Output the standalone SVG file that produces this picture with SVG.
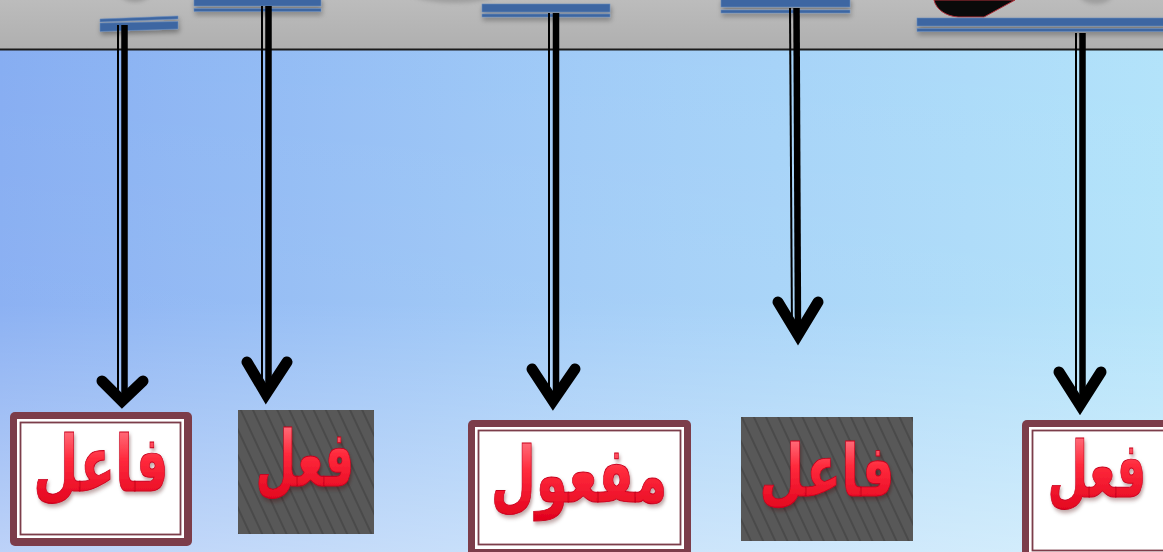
<svg xmlns="http://www.w3.org/2000/svg" width="1163" height="552" viewBox="0 0 1163 552">
  <defs>
    <linearGradient id="skyH" x1="0" y1="0" x2="1" y2="0">
      <stop offset="0" stop-color="#86adf2"/>
      <stop offset="0.5" stop-color="#a0cbf7"/>
      <stop offset="1" stop-color="#b2e3fa"/>
    </linearGradient>
    <linearGradient id="skyV" x1="0" y1="0" x2="0" y2="1">
      <stop offset="0" stop-color="#ffffff" stop-opacity="0"/>
      <stop offset="0.55" stop-color="#ffffff" stop-opacity="0.05"/>
      <stop offset="1" stop-color="#ffffff" stop-opacity="0.45"/>
    </linearGradient>
    <linearGradient id="band" x1="0" y1="0" x2="0" y2="1">
      <stop offset="0" stop-color="#bcbcbc"/>
      <stop offset="1" stop-color="#afafaf"/>
    </linearGradient>
    <linearGradient id="glossRed" x1="0" y1="0" x2="0" y2="1">
      <stop offset="0" stop-color="#ff8a94"/>
      <stop offset="0.45" stop-color="#ff2a3c"/>
      <stop offset="1" stop-color="#e0001c"/>
    </linearGradient>
    <pattern id="stripes" width="11" height="11" patternUnits="userSpaceOnUse" patternTransform="rotate(-25)">
      <rect width="11" height="11" fill="#585858"/>
      <rect x="0" y="0" width="2" height="11" fill="#4a4a4a"/>
    </pattern>
    <filter id="softShadow" x="-10%" y="-50%" width="120%" height="250%">
      <feDropShadow dx="1" dy="3" stdDeviation="2.5" flood-color="#000" flood-opacity="0.35"/>
    </filter>
    <filter id="textShadow" x="-10%" y="-10%" width="130%" height="130%">
      <feDropShadow dx="1.5" dy="2" stdDeviation="1.5" flood-color="#400008" flood-opacity="0.35"/>
    </filter>
    <filter id="blurArc" x="-20%" y="-20%" width="140%" height="140%">
      <feGaussianBlur stdDeviation="2"/>
    </filter>
  </defs>
  <style>
    .bar { fill: #3c66a2; stroke: #6b8dbd; stroke-width: 0.6; }
    .frameOuter { fill: #7c3d4a; }
    .frameInner { fill: #ffffff; }
    .frameLine { fill: none; stroke: #7c3d4a; stroke-width: 1.8; }
    .tile { fill: url(#stripes); }
    .word { font-family: "DejaVu Sans", sans-serif; font-weight: bold; font-size: 52px; fill: url(#glossRed); stroke: #c8001c; stroke-width: 0.6; text-anchor: middle; filter: url(#textShadow); }
    .stem { stroke: #000; fill: none; }
    .thin { stroke-width: 2; }
    .thick { stroke-width: 6.5; }
    .head { stroke: #000; stroke-width: 11; fill: none; stroke-linecap: round; stroke-linejoin: miter; stroke-miterlimit: 10; }
  </style>

  <!-- sky background -->
  <rect width="1163" height="552" fill="url(#skyH)"/>
  <rect width="1163" height="552" fill="url(#skyV)"/>

  <!-- grey header band -->
  <g id="header">
    <rect x="0" y="0" width="1163" height="50" fill="url(#band)"/>
    <!-- bottoms of round shapes cut by the top edge -->
    <ellipse cx="135" cy="-8" rx="16" ry="10" fill="#8a8a8a" filter="url(#blurArc)" opacity="0.7"/>
    <ellipse cx="455" cy="-10" rx="48" ry="13" fill="#8a8a8a" filter="url(#blurArc)" opacity="0.6"/>
    <ellipse cx="1096" cy="-8" rx="18" ry="12" fill="#8a8a8a" filter="url(#blurArc)" opacity="0.6"/>
    <path d="M934,0 C936,9 945,16 958,17 L984,17 L1015,0 Z" fill="#0a0a0a" stroke="#b0303a" stroke-width="1"/>
    <!-- blue label bars -->
    <g filter="url(#softShadow)">
      <polygon class="bar" points="100,19 178,16 178,19 100,22"/>
      <polygon class="bar" points="100,23 178,21.5 178,29 100,31.5"/>
      <rect class="bar" x="194" y="-2" width="127" height="8"/>
      <rect class="bar" x="194" y="8.5" width="127" height="3"/>
      <rect class="bar" x="482" y="4" width="128" height="8"/>
      <rect class="bar" x="482" y="14" width="128" height="3"/>
      <rect class="bar" x="721" y="-2" width="129" height="9"/>
      <rect class="bar" x="721" y="10" width="129" height="3"/>
      <rect class="bar" x="917" y="18" width="250" height="8"/>
      <rect class="bar" x="917" y="28.5" width="250" height="3"/>
    </g>
    <rect x="0" y="48.5" width="1163" height="2" fill="#1a1a1a"/>
  </g>

  <!-- connectors: double stems ending in open chevron heads -->
  <g id="connectors">
    <line class="stem thin" x1="118" y1="25" x2="118" y2="402"/>
    <line class="stem thick" x1="124.5" y1="25" x2="124.5" y2="402"/>
    <polyline class="head" points="102,381 122,401 143,381"/>

    <line class="stem thin" x1="262" y1="6" x2="262" y2="394"/>
    <line class="stem thick" x1="268.5" y1="6" x2="268.5" y2="394"/>
    <polyline class="head" points="247,362 266,394 287,362"/>

    <line class="stem thin" x1="549" y1="13" x2="549" y2="400"/>
    <line class="stem thick" x1="556" y1="13" x2="556" y2="400"/>
    <polyline class="head" points="532,369 553,401 575,369"/>

    <line class="stem thin" x1="790" y1="8" x2="792" y2="333"/>
    <line class="stem thick" x1="796.5" y1="8" x2="798" y2="333"/>
    <polyline class="head" points="778,302 798,335 818,302"/>

    <line class="stem thin" x1="1076" y1="33" x2="1076" y2="404"/>
    <line class="stem thick" x1="1082.5" y1="33" x2="1082.5" y2="404"/>
    <polyline class="head" points="1059,372 1080,405 1101,372"/>
  </g>

  <!-- framed word: فاعل -->
  <g id="node-faail-1">
    <rect class="frameOuter" x="10" y="412" width="182" height="134" rx="5"/>
    <rect class="frameInner" x="17" y="419" width="167" height="119"/>
    <rect class="frameLine" x="20.5" y="422.5" width="160" height="112"/>
    <text class="word" transform="translate(101,491) scale(1,1.5)">فاعل</text>
  </g>

  <!-- striped tile: فعل -->
  <g id="node-fiil-1">
    <rect class="tile" x="238" y="410" width="136" height="124"/>
    <text class="word" transform="translate(305,486) scale(0.9,1.5)">فعل</text>
  </g>

  <!-- framed word: مفعول -->
  <g id="node-mafool">
    <rect class="frameOuter" x="468" y="420" width="223" height="136" rx="5"/>
    <rect class="frameInner" x="475" y="427" width="209" height="122"/>
    <rect class="frameLine" x="478.5" y="430.5" width="202" height="114"/>
    <text class="word" transform="translate(579,502) scale(1,1.5)">مفعول</text>
  </g>

  <!-- striped tile: فاعل -->
  <g id="node-faail-2">
    <rect class="tile" x="741" y="417" width="172" height="124"/>
    <text class="word" transform="translate(827,496) scale(1,1.4)">فاعل</text>
  </g>

  <!-- framed word: فعل (runs past the right edge) -->
  <g id="node-fiil-2">
    <rect class="frameOuter" x="1022" y="420" width="160" height="140" rx="5"/>
    <rect class="frameInner" x="1029" y="427" width="160" height="126"/>
    <rect class="frameLine" x="1032.5" y="430.5" width="160" height="120"/>
    <text class="word" transform="translate(1097,497) scale(0.9,1.5)">فعل</text>
  </g>
</svg>
